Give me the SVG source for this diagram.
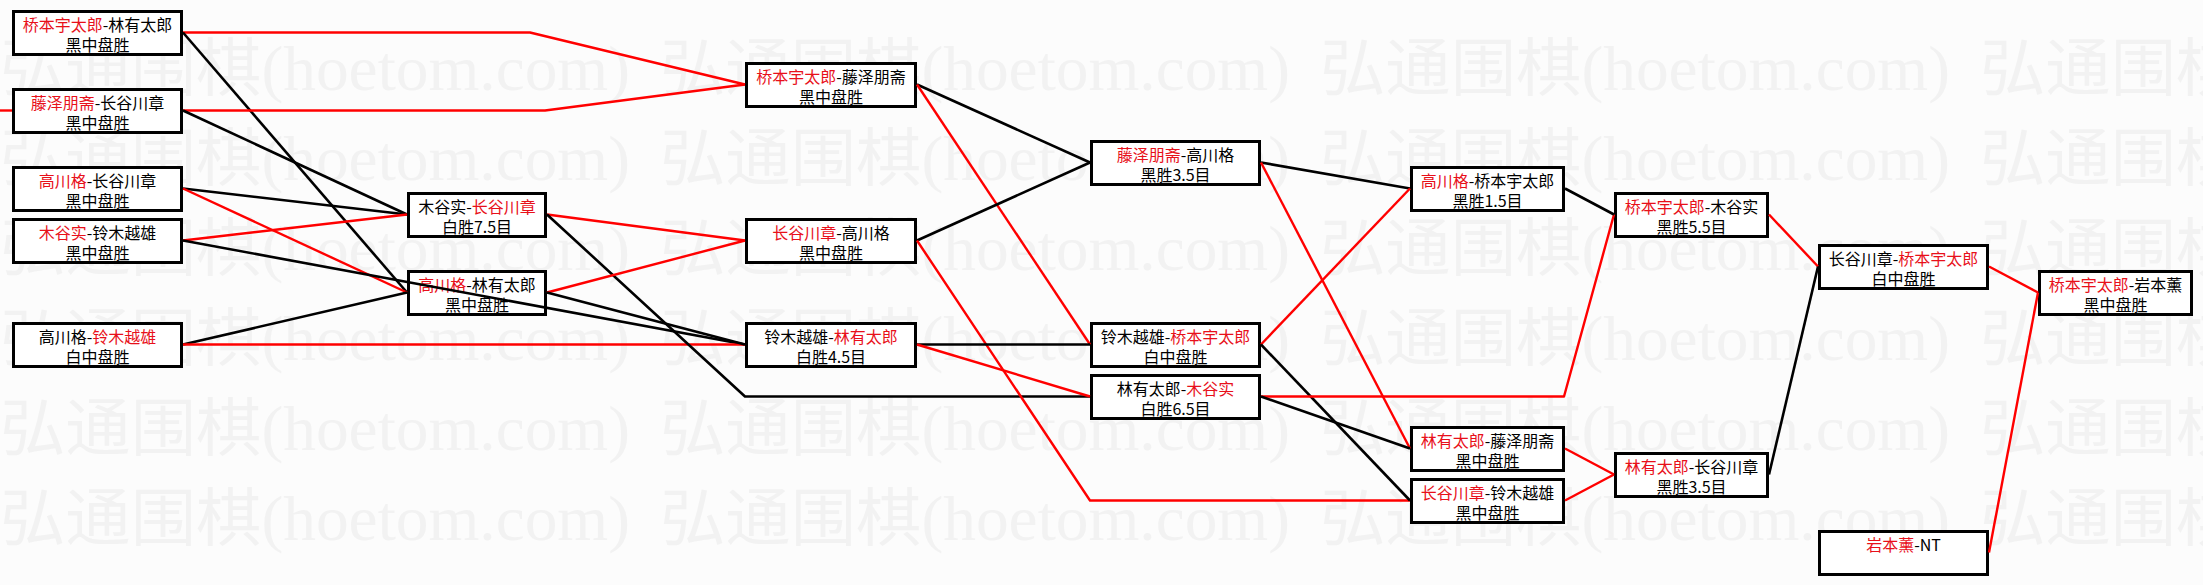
<svg xmlns="http://www.w3.org/2000/svg" width="2203" height="585" viewBox="0 0 2203 585">
<style>
.bg{fill:#fcfcfc}
.wm{font-family:"Liberation Serif","Noto Sans CJK SC",serif;font-size:63px;fill:#f2f2f2}
.box{fill:#ffffff;stroke:#000;stroke-width:3}
.t{font-family:"Noto Sans CJK SC","Noto Sans",sans-serif;font-size:16px;fill:#000;text-anchor:middle}
.r{fill:#e8101a}
.cb{fill:none;stroke:#000;stroke-width:2.6;stroke-linejoin:round}
.cr{fill:none;stroke:#f00;stroke-width:2.4;stroke-linejoin:round}
</style>
<rect class="bg" x="0" y="0" width="2203" height="585"/>
<g id="watermark">
<text class="wm" x="0" y="90" textLength="630" lengthAdjust="spacingAndGlyphs">弘通围棋(hoetom.com)</text>
<text class="wm" x="660" y="90" textLength="630" lengthAdjust="spacingAndGlyphs">弘通围棋(hoetom.com)</text>
<text class="wm" x="1320" y="90" textLength="630" lengthAdjust="spacingAndGlyphs">弘通围棋(hoetom.com)</text>
<text class="wm" x="1980" y="90" textLength="630" lengthAdjust="spacingAndGlyphs">弘通围棋(hoetom.com)</text>
<text class="wm" x="0" y="180" textLength="630" lengthAdjust="spacingAndGlyphs">弘通围棋(hoetom.com)</text>
<text class="wm" x="660" y="180" textLength="630" lengthAdjust="spacingAndGlyphs">弘通围棋(hoetom.com)</text>
<text class="wm" x="1320" y="180" textLength="630" lengthAdjust="spacingAndGlyphs">弘通围棋(hoetom.com)</text>
<text class="wm" x="1980" y="180" textLength="630" lengthAdjust="spacingAndGlyphs">弘通围棋(hoetom.com)</text>
<text class="wm" x="0" y="270" textLength="630" lengthAdjust="spacingAndGlyphs">弘通围棋(hoetom.com)</text>
<text class="wm" x="660" y="270" textLength="630" lengthAdjust="spacingAndGlyphs">弘通围棋(hoetom.com)</text>
<text class="wm" x="1320" y="270" textLength="630" lengthAdjust="spacingAndGlyphs">弘通围棋(hoetom.com)</text>
<text class="wm" x="1980" y="270" textLength="630" lengthAdjust="spacingAndGlyphs">弘通围棋(hoetom.com)</text>
<text class="wm" x="0" y="360" textLength="630" lengthAdjust="spacingAndGlyphs">弘通围棋(hoetom.com)</text>
<text class="wm" x="660" y="360" textLength="630" lengthAdjust="spacingAndGlyphs">弘通围棋(hoetom.com)</text>
<text class="wm" x="1320" y="360" textLength="630" lengthAdjust="spacingAndGlyphs">弘通围棋(hoetom.com)</text>
<text class="wm" x="1980" y="360" textLength="630" lengthAdjust="spacingAndGlyphs">弘通围棋(hoetom.com)</text>
<text class="wm" x="0" y="450" textLength="630" lengthAdjust="spacingAndGlyphs">弘通围棋(hoetom.com)</text>
<text class="wm" x="660" y="450" textLength="630" lengthAdjust="spacingAndGlyphs">弘通围棋(hoetom.com)</text>
<text class="wm" x="1320" y="450" textLength="630" lengthAdjust="spacingAndGlyphs">弘通围棋(hoetom.com)</text>
<text class="wm" x="1980" y="450" textLength="630" lengthAdjust="spacingAndGlyphs">弘通围棋(hoetom.com)</text>
<text class="wm" x="0" y="540" textLength="630" lengthAdjust="spacingAndGlyphs">弘通围棋(hoetom.com)</text>
<text class="wm" x="660" y="540" textLength="630" lengthAdjust="spacingAndGlyphs">弘通围棋(hoetom.com)</text>
<text class="wm" x="1320" y="540" textLength="630" lengthAdjust="spacingAndGlyphs">弘通围棋(hoetom.com)</text>
<text class="wm" x="1980" y="540" textLength="630" lengthAdjust="spacingAndGlyphs">弘通围棋(hoetom.com)</text>
</g>

<g id="B1"><rect class="box" x="13.5" y="11.5" width="168" height="43"/><text class="t" x="97.5" y="31"><tspan class="r">桥本宇太郎</tspan>-林有太郎</text><text class="t" x="97.5" y="51">黑中盘胜</text></g>
<g id="B2"><rect class="box" x="13.5" y="89.5" width="168" height="43"/><text class="t" x="97.5" y="109"><tspan class="r">藤泽朋斋</tspan>-长谷川章</text><text class="t" x="97.5" y="129">黑中盘胜</text></g>
<g id="B3"><rect class="box" x="13.5" y="167.5" width="168" height="43"/><text class="t" x="97.5" y="187"><tspan class="r">高川格</tspan>-长谷川章</text><text class="t" x="97.5" y="207">黑中盘胜</text></g>
<g id="B4"><rect class="box" x="13.5" y="219.5" width="168" height="43"/><text class="t" x="97.5" y="239"><tspan class="r">木谷实</tspan>-铃木越雄</text><text class="t" x="97.5" y="259">黑中盘胜</text></g>
<g id="B5"><rect class="box" x="13.5" y="323.5" width="168" height="43"/><text class="t" x="97.5" y="343">高川格-<tspan class="r">铃木越雄</tspan></text><text class="t" x="97.5" y="363">白中盘胜</text></g>

<g id="C1"><rect class="box" x="408.5" y="193.5" width="137" height="43"/><text class="t" x="477" y="213">木谷实-<tspan class="r">长谷川章</tspan></text><text class="t" x="477" y="233">白胜7.5目</text></g>
<g id="C2"><rect class="box" x="408.5" y="271.5" width="137" height="43"/><text class="t" x="477" y="291"><tspan class="r">高川格</tspan>-林有太郎</text><text class="t" x="477" y="311">黑中盘胜</text></g>

<g id="D1"><rect class="box" x="746.5" y="63.5" width="169" height="43"/><text class="t" x="831" y="83"><tspan class="r">桥本宇太郎</tspan>-藤泽朋斋</text><text class="t" x="831" y="103">黑中盘胜</text></g>
<g id="D2"><rect class="box" x="746.5" y="219.5" width="169" height="43"/><text class="t" x="831" y="239"><tspan class="r">长谷川章</tspan>-高川格</text><text class="t" x="831" y="259">黑中盘胜</text></g>
<g id="D3"><rect class="box" x="746.5" y="323.5" width="169" height="43"/><text class="t" x="831" y="343">铃木越雄-<tspan class="r">林有太郎</tspan></text><text class="t" x="831" y="363">白胜4.5目</text></g>

<g id="E1"><rect class="box" x="1091.5" y="141.5" width="168" height="43"/><text class="t" x="1175.5" y="161"><tspan class="r">藤泽朋斋</tspan>-高川格</text><text class="t" x="1175.5" y="181">黑胜3.5目</text></g>
<g id="E2"><rect class="box" x="1091.5" y="323.5" width="168" height="43"/><text class="t" x="1175.5" y="343">铃木越雄-<tspan class="r">桥本宇太郎</tspan></text><text class="t" x="1175.5" y="363">白中盘胜</text></g>
<g id="E3"><rect class="box" x="1091.5" y="375.5" width="168" height="43"/><text class="t" x="1175.5" y="395">林有太郎-<tspan class="r">木谷实</tspan></text><text class="t" x="1175.5" y="415">白胜6.5目</text></g>

<g id="F1"><rect class="box" x="1411.5" y="167.5" width="152" height="43"/><text class="t" x="1487.5" y="187"><tspan class="r">高川格</tspan>-桥本宇太郎</text><text class="t" x="1487.5" y="207">黑胜1.5目</text></g>
<g id="F2"><rect class="box" x="1411.5" y="427.5" width="152" height="43"/><text class="t" x="1487.5" y="447"><tspan class="r">林有太郎</tspan>-藤泽朋斋</text><text class="t" x="1487.5" y="467">黑中盘胜</text></g>
<g id="F3"><rect class="box" x="1411.5" y="479.5" width="152" height="43"/><text class="t" x="1487.5" y="499"><tspan class="r">长谷川章</tspan>-铃木越雄</text><text class="t" x="1487.5" y="519">黑中盘胜</text></g>

<g id="G1"><rect class="box" x="1615.5" y="193.5" width="152" height="43"/><text class="t" x="1691.5" y="213"><tspan class="r">桥本宇太郎</tspan>-木谷实</text><text class="t" x="1691.5" y="233">黑胜5.5目</text></g>
<g id="G2"><rect class="box" x="1615.5" y="453.5" width="152" height="43"/><text class="t" x="1691.5" y="473"><tspan class="r">林有太郎</tspan>-长谷川章</text><text class="t" x="1691.5" y="493">黑胜3.5目</text></g>

<g id="H1"><rect class="box" x="1819.5" y="245.5" width="168" height="43"/><text class="t" x="1903.5" y="265">长谷川章-<tspan class="r">桥本宇太郎</tspan></text><text class="t" x="1903.5" y="285">白中盘胜</text></g>
<g id="H2"><rect class="box" x="1819.5" y="531.5" width="168" height="43"/><text class="t" x="1903.5" y="551"><tspan class="r">岩本薰</tspan>-NT</text></g>

<g id="I1"><rect class="box" x="2039.5" y="271.5" width="152" height="43"/><text class="t" x="2115.5" y="291"><tspan class="r">桥本宇太郎</tspan>-岩本薰</text><text class="t" x="2115.5" y="311">黑中盘胜</text></g>

<g id="connectors">
<polyline class="cr" points="0,110.5 12,110.5"/>
<polyline class="cr" points="183,32.5 530,32.5 745,84.5"/>
<polyline class="cb" points="183,32.5 407,292.5"/>
<polyline class="cr" points="183,110.5 545,110.5 745,84.5"/>
<polyline class="cb" points="183,110.5 407,214.5"/>
<polyline class="cb" points="183,188.5 407,214.5"/>
<polyline class="cr" points="183,188.5 407,292.5"/>
<polyline class="cr" points="183,240.5 407,214.5"/>
<polyline class="cb" points="183,240.5 745,344.5"/>
<polyline class="cb" points="183,344.5 407,292.5"/>
<polyline class="cr" points="183,344.5 745,344.5"/>
<polyline class="cr" points="547,214.5 745,240.5"/>
<polyline class="cb" points="547,214.5 745,396.5 1090,396.5"/>
<polyline class="cr" points="547,292.5 745,240.5"/>
<polyline class="cb" points="547,292.5 745,344.5"/>
<polyline class="cb" points="917,84.5 1090,162.5"/>
<polyline class="cr" points="917,84.5 1090,344.5"/>
<polyline class="cb" points="917,240.5 1090,162.5"/>
<polyline class="cr" points="917,240.5 1090,500.5 1410,500.5"/>
<polyline class="cb" points="917,344.5 1090,344.5"/>
<polyline class="cr" points="917,344.5 1090,396.5"/>
<polyline class="cb" points="1261,162.5 1410,188.5"/>
<polyline class="cr" points="1261,162.5 1410,448.5"/>
<polyline class="cr" points="1261,344.5 1410,188.5"/>
<polyline class="cb" points="1261,344.5 1410,500.5"/>
<polyline class="cr" points="1261,396.5 1564,396.5 1614,214.5"/>
<polyline class="cb" points="1261,396.5 1410,448.5"/>
<polyline class="cb" points="1565,188.5 1614,214.5"/>
<polyline class="cr" points="1565,448.5 1614,474.5"/>
<polyline class="cr" points="1565,500.5 1614,474.5"/>
<polyline class="cr" points="1769,214.5 1818,266.5"/>
<polyline class="cb" points="1769,474.5 1818,266.5"/>
<polyline class="cr" points="1989,266.5 2038,292.5"/>
<polyline class="cr" points="1989,552.5 2038,292.5"/>
</g>
</svg>
